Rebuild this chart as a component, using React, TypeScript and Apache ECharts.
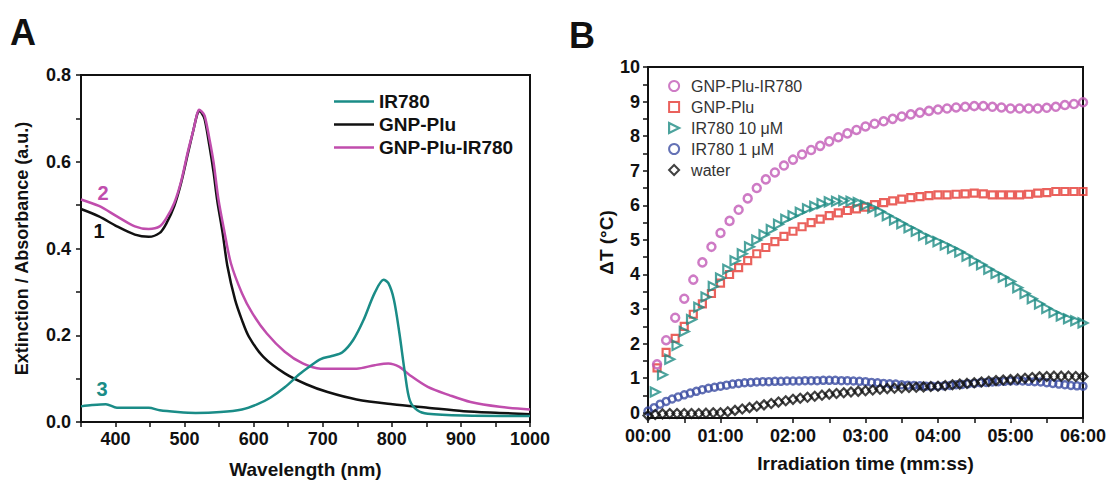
import React, { useEffect, useRef } from "react";
import * as echarts from "echarts";

// ---------- Panel A: spectra ----------
const gnpWl = [350, 376, 402, 428, 448, 464, 474, 485, 495, 505, 513, 518, 521, 524, 529, 536, 542, 547, 555, 562, 573, 583, 593, 614, 645, 676, 707, 749, 801, 852, 904, 956, 1000];
const gnpAbs = [0.491, 0.474, 0.451, 0.432, 0.427, 0.436, 0.459, 0.498, 0.552, 0.621, 0.675, 0.708, 0.717, 0.714, 0.698, 0.636, 0.575, 0.513, 0.436, 0.359, 0.282, 0.235, 0.197, 0.150, 0.112, 0.087, 0.069, 0.052, 0.041, 0.033, 0.025, 0.021, 0.018];

const mixWl = [350, 376, 402, 428, 448, 464, 474, 485, 495, 505, 513, 518, 521, 524, 529, 536, 542, 549, 557, 567, 583, 598, 619, 645, 671, 697, 723, 749, 775, 795, 811, 826, 852, 883, 914, 956, 1000];
const mixAbs = [0.513, 0.498, 0.474, 0.451, 0.445, 0.451, 0.471, 0.505, 0.555, 0.625, 0.675, 0.710, 0.720, 0.717, 0.706, 0.652, 0.598, 0.513, 0.444, 0.366, 0.297, 0.251, 0.204, 0.162, 0.135, 0.123, 0.123, 0.123, 0.131, 0.135, 0.127, 0.108, 0.081, 0.062, 0.046, 0.035, 0.029];

const irWl = [350, 366, 386, 402, 438, 448, 464, 490, 516, 552, 583, 604, 624, 645, 666, 681, 697, 713, 728, 744, 759, 775, 788, 795, 803, 811, 819, 826, 837, 852, 904, 1000];
const irAbs = [0.036, 0.039, 0.041, 0.033, 0.033, 0.033, 0.027, 0.023, 0.021, 0.023, 0.029, 0.040, 0.056, 0.080, 0.110, 0.128, 0.145, 0.152, 0.160, 0.189, 0.235, 0.297, 0.328, 0.320, 0.282, 0.204, 0.112, 0.050, 0.027, 0.019, 0.015, 0.014];

// ---------- Panel B: heating curves (time in s) ----------
const stepMix = 7.5; // s between GNP-Plu-IR780 / GNP-Plu points
const stepIr10 = 6;
const stepIr1 = 5;
const stepWater = 6;

const dtMix = [1.4, 2.1, 2.75, 3.3, 3.85, 4.35, 4.8, 5.2, 5.55, 5.87, 6.2, 6.5, 6.75, 6.95, 7.15, 7.32, 7.47, 7.6, 7.72, 7.85, 7.97, 8.08, 8.18, 8.28, 8.36, 8.43, 8.5, 8.57, 8.63, 8.68, 8.73, 8.77, 8.8, 8.83, 8.85, 8.87, 8.87, 8.85, 8.83, 8.8, 8.8, 8.8, 8.8, 8.82, 8.85, 8.9, 8.93, 8.98];
const dtGnp = [1.3, 1.75, 2.15, 2.5, 2.85, 3.15, 3.45, 3.75, 4.0, 4.2, 4.4, 4.6, 4.78, 4.95, 5.1, 5.25, 5.38, 5.5, 5.6, 5.7, 5.78, 5.85, 5.9, 5.95, 6.02, 6.08, 6.13, 6.18, 6.22, 6.25, 6.28, 6.3, 6.3, 6.32, 6.33, 6.35, 6.33, 6.3, 6.3, 6.3, 6.3, 6.32, 6.35, 6.37, 6.4, 6.4, 6.4, 6.4];
const dtIr10 = [0.6, 1.1, 1.55, 1.95, 2.35, 2.7, 3.05, 3.35, 3.65, 3.9, 4.15, 4.4, 4.6, 4.8, 5.0, 5.15, 5.3, 5.45, 5.6, 5.7, 5.8, 5.9, 5.97, 6.05, 6.1, 6.12, 6.13, 6.12, 6.08, 6.0, 5.92, 5.82, 5.7, 5.58, 5.47, 5.35, 5.25, 5.13, 5.03, 4.95, 4.85, 4.75, 4.65, 4.53, 4.4, 4.28, 4.15, 4.03, 3.92, 3.8, 3.62, 3.45, 3.3, 3.15, 3.02, 2.9, 2.8, 2.72, 2.66, 2.6];
const dtIr1 = [0.05, 0.15, 0.25, 0.33, 0.4, 0.46, 0.52, 0.57, 0.62, 0.67, 0.71, 0.74, 0.77, 0.8, 0.83, 0.85, 0.87, 0.88, 0.89, 0.9, 0.9, 0.91, 0.91, 0.92, 0.92, 0.92, 0.93, 0.93, 0.93, 0.94, 0.94, 0.94, 0.93, 0.93, 0.92, 0.91, 0.9, 0.88, 0.87, 0.85, 0.84, 0.83, 0.81, 0.8, 0.79, 0.78, 0.77, 0.77, 0.77, 0.78, 0.79, 0.81, 0.82, 0.84, 0.85, 0.87, 0.88, 0.89, 0.9, 0.91, 0.92, 0.92, 0.92, 0.91, 0.9, 0.89, 0.87, 0.85, 0.83, 0.81, 0.79, 0.78, 0.77];
const dtWater = [-0.08, -0.05, -0.03, -0.02, -0.02, -0.02, -0.02, -0.02, -0.01, 0.0, 0.0, 0.03, 0.07, 0.11, 0.15, 0.19, 0.23, 0.27, 0.31, 0.35, 0.39, 0.42, 0.45, 0.48, 0.51, 0.54, 0.56, 0.58, 0.6, 0.62, 0.64, 0.66, 0.68, 0.7, 0.71, 0.72, 0.73, 0.74, 0.75, 0.76, 0.77, 0.79, 0.81, 0.83, 0.85, 0.87, 0.89, 0.91, 0.93, 0.95, 0.96, 0.98, 1.0, 1.02, 1.04, 1.05, 1.06, 1.06, 1.06, 1.05, 1.05];

const yTicksB = [0, 1, 2, 3, 4, 5, 6, 7, 8, 9, 10];
const yMinorB = [0, 0.5, 1, 1.5, 2, 2.5, 3, 3.5, 4, 4.5, 5, 5.5, 6, 6.5, 7, 7.5, 8, 8.5, 9, 9.5, 10];

const FONT = "'Liberation Sans', Arial, Helvetica, sans-serif";

const zip = (xs: number[], ys: number[]) => ys.map((y, i) => [xs[i], y]);
const timed = (step: number, start: number, ys: number[]) => ys.map((y, i) => [start + i * step, y]);

const mmss = (v: number) => {
  const m = Math.floor(v / 60);
  const s = Math.round(v % 60);
  return `${String(m).padStart(2, "0")}:${String(s).padStart(2, "0")}`;
};

const axisLine = { onZero: false, lineStyle: { color: "#111", width: 2 } };
const tick = { length: 5, lineStyle: { color: "#111", width: 1.5 } };
const label = { fontSize: 18, fontWeight: "bold", color: "#111", fontFamily: FONT };
const nameStyle = { fontSize: 19, fontWeight: "bold", color: "#111", fontFamily: FONT };

const hollow = (c: string, w = 2.2) => ({ color: "rgba(255,255,255,0)", borderColor: c, borderWidth: w });

const TEAL_A = "#1a8c87";
const PINK_A = "#c04dad";
const TEAL_B = "#1f8c84";

const option: any = {
  animation: false,
  backgroundColor: "#fff",
  textStyle: { fontFamily: FONT },
  grid: [
    { left: 81, top: 75, width: 449, height: 347, show: true, borderColor: "#111", borderWidth: 2, backgroundColor: "transparent" },
    { left: 648, top: 67, width: 435, height: 351, show: true, borderColor: "#111", borderWidth: 2, backgroundColor: "transparent" },
  ],
  xAxis: [
    {
      type: "value", gridIndex: 0, min: 350, max: 1000, interval: 50,
      axisLine, axisTick: tick, splitLine: { show: false },
      axisLabel: { ...label, margin: 8, formatter: (v: number) => (v % 100 === 0 ? String(v) : "") },
      name: "Wavelength (nm)", nameLocation: "middle", nameGap: 38, nameTextStyle: nameStyle,
    },
    {
      type: "value", gridIndex: 1, min: 0, max: 360, interval: 30,
      axisLine, axisTick: tick, splitLine: { show: false },
      axisLabel: { ...label, margin: 9, formatter: (v: number) => (v % 60 === 0 ? mmss(v) : "") },
      name: "Irradiation time (mm:ss)", nameLocation: "middle", nameGap: 36, nameTextStyle: nameStyle,
    },
  ],
  yAxis: [
    {
      type: "value", gridIndex: 0, min: 0, max: 0.8, interval: 0.1,
      axisLine, axisTick: tick, splitLine: { show: false },
      axisLabel: { ...label, margin: 10, formatter: (v: number) => (Math.round(v * 10) % 2 === 0 ? v.toFixed(1) : "") },
      name: "Extinction / Absorbance (a.u.)", nameLocation: "middle", nameGap: 50, nameTextStyle: { ...nameStyle, fontSize: 18 },
    },
    {
      type: "value", gridIndex: 1, min: -0.15, max: 10,
      axisLine, splitLine: { show: false },
      axisTick: { ...tick, customValues: yMinorB },
      axisLabel: { ...label, margin: 8, customValues: yTicksB },
      name: "ΔT (°C)", nameLocation: "middle", nameGap: 32, nameTextStyle: nameStyle,
    },
  ],
  legend: [
    {
      data: [
        { name: "IR780", icon: "rect", itemStyle: { color: TEAL_A } },
        { name: "GNP-Plu", icon: "rect", itemStyle: { color: "#111" } },
        { name: "GNP-Plu-IR780", icon: "rect", itemStyle: { color: PINK_A } },
      ],
      orient: "vertical", left: 329, top: 87, itemWidth: 40, itemHeight: 2.5, itemGap: 4,
      textStyle: { fontSize: 19, fontWeight: "bold", color: "#111", fontFamily: FONT, padding: [0, 0, 0, 0] },
      selectedMode: false,
    },
    {
      data: [
        { name: "GNP-Plu-IR780 " },
        { name: "GNP-Plu " },
        { name: "IR780 10 μM", icon: "path://M0,0L10,5L0,10Z", itemStyle: { color: "rgba(255,255,255,0)", borderColor: TEAL_B, borderWidth: 2.2 } },
        { name: "IR780 1 μM" },
        { name: "water" },
      ],
      orient: "vertical", left: 663, top: 73, itemWidth: 10, itemHeight: 10, itemGap: 5,
      textStyle: { fontSize: 16, color: "#333", fontFamily: FONT, padding: [0, 0, 0, 7] },
      selectedMode: false,
    },
  ],
  series: [
    {
      name: "GNP-Plu", type: "line", xAxisIndex: 0, yAxisIndex: 0, data: zip(gnpWl, gnpAbs),
      smooth: 0.3, symbol: "none", lineStyle: { color: "#111", width: 2.5 }, itemStyle: { color: "#111" },
    },
    {
      name: "GNP-Plu-IR780", type: "line", xAxisIndex: 0, yAxisIndex: 0, data: zip(mixWl, mixAbs),
      smooth: 0.3, symbol: "none", lineStyle: { color: PINK_A, width: 2.5 }, itemStyle: { color: PINK_A },
    },
    {
      name: "IR780", type: "line", xAxisIndex: 0, yAxisIndex: 0, data: zip(irWl, irAbs),
      smooth: 0.3, symbol: "none", lineStyle: { color: TEAL_A, width: 2.5 }, itemStyle: { color: TEAL_A },
    },
    {
      name: "IR780 1 μM", type: "scatter", xAxisIndex: 1, yAxisIndex: 1, data: timed(stepIr1, 0, dtIr1),
      symbol: "circle", symbolSize: 7, itemStyle: hollow("#3c4ea3", 2.4),
    },
    {
      name: "water", type: "scatter", xAxisIndex: 1, yAxisIndex: 1, data: timed(stepWater, 0, dtWater),
      symbol: "diamond", symbolSize: 9, itemStyle: hollow("#111"),
    },
    {
      name: "GNP-Plu ", type: "scatter", xAxisIndex: 1, yAxisIndex: 1, data: timed(stepMix, stepMix, dtGnp),
      symbol: "rect", symbolSize: 7, itemStyle: hollow("#e53a33"),
    },
    {
      name: "IR780 10 μM", type: "scatter", xAxisIndex: 1, yAxisIndex: 1, data: timed(stepIr10, stepIr10, dtIr10),
      symbol: "triangle", symbolRotate: -90, symbolSize: 9, itemStyle: hollow(TEAL_B),
    },
    {
      name: "GNP-Plu-IR780 ", type: "scatter", xAxisIndex: 1, yAxisIndex: 1, data: timed(stepMix, stepMix, dtMix),
      symbol: "circle", symbolSize: 8, itemStyle: hollow("#c25ab6", 2.5),
    },
  ],
  graphic: [
    { type: "text", left: 10, top: 14, style: { text: "A", fontSize: 36, fontWeight: "bold", fill: "#111", fontFamily: FONT } },
    { type: "text", left: 569, top: 17, style: { text: "B", fontSize: 36, fontWeight: "bold", fill: "#111", fontFamily: FONT } },
    { type: "text", x: 103, y: 193, style: { text: "2", fontSize: 20, fontWeight: "bold", fill: PINK_A, fontFamily: FONT, align: "center", verticalAlign: "middle" } },
    { type: "text", x: 99, y: 231, style: { text: "1", fontSize: 20, fontWeight: "bold", fill: "#111", fontFamily: FONT, align: "center", verticalAlign: "middle" } },
    { type: "text", x: 102, y: 389, style: { text: "3", fontSize: 20, fontWeight: "bold", fill: TEAL_A, fontFamily: FONT, align: "center", verticalAlign: "middle" } },
  ],
};

export default function App() {
  const ref = useRef<HTMLDivElement>(null);
  useEffect(() => {
    document.body.style.margin = "0";
    const chart = echarts.init(ref.current!, null, { renderer: "svg" });
    chart.setOption(option);
    return () => chart.dispose();
  }, []);
  return <div ref={ref} style={{ width: 1113, height: 489 }} />;
}
